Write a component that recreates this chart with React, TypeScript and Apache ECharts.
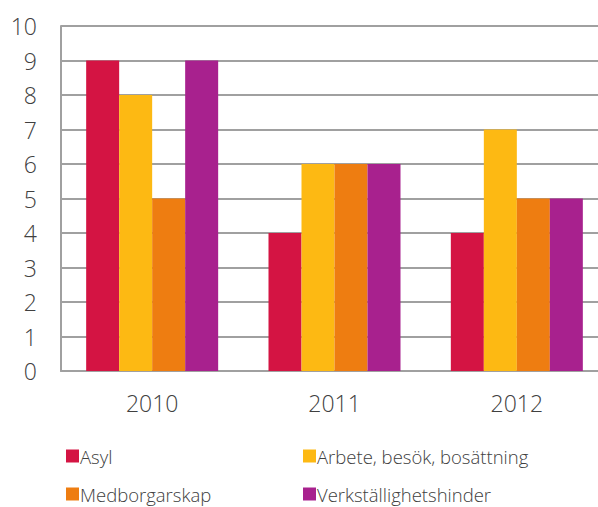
import React, { useEffect, useRef } from "react";
import * as echarts from "echarts";

const categories = ["2010", "2011", "2012"];
const asyl = [9, 4, 4];
const arbete = [8, 6, 7];
const medborgarskap = [5, 6, 5];
const verkstallighet = [9, 6, 5];
const seriesNames = ["Asyl", "Arbete, besök, bosättning", "Medborgarskap", "Verkställighetshinder"];
const colors = ["#D41443", "#FDB913", "#EE7D11", "#A8218E"];

export default function App() {
  const ref = useRef<HTMLDivElement>(null);
  useEffect(() => {
    const chart = echarts.init(ref.current!, null, { renderer: "svg" });
    const font = "'Open Sans', sans-serif";
    const data = [asyl, arbete, medborgarskap, verkstallighet];
    const legendPos = [
      [61, 441],
      [298, 441],
      [61, 479],
      [298, 479],
    ];
    chart.setOption({
      animation: false,
      grid: { left: 61, width: 547, top: 26, height: 345, containLabel: false },
      legend: seriesNames.map((name, i) => ({
        data: [name],
        left: legendPos[i][0],
        top: legendPos[i][1],
        padding: 5,
        itemWidth: 13,
        itemHeight: 13,
        icon: "rect",
        textStyle: { fontFamily: font, fontSize: 18.5, lineHeight: 20, color: "#404040", fontWeight: 300, padding: [0, 0, 0, -4] },
      })),
      xAxis: {
        type: "category",
        data: categories,
        axisLine: { lineStyle: { color: "#A0A0A0", width: 2 } },
        axisTick: { show: false },
        axisLabel: { fontFamily: font, fontSize: 23, color: "#404040", fontWeight: 300, margin: 20 },
      },
      yAxis: {
        type: "value",
        min: 0,
        max: 10,
        interval: 1,
        axisLine: { show: true, lineStyle: { color: "#A0A0A0", width: 2 } },
        axisTick: { show: false },
        splitLine: { lineStyle: { color: "#A0A0A0", width: 2 } },
        axisLabel: { fontFamily: font, fontSize: 23, color: "#404040", fontWeight: 300, margin: 24, align: "right" },
      },
      series: seriesNames.map((name, i) => ({
        name,
        type: "bar",
        data: data[i],
        barWidth: 33,
        barGap: "0%",
        itemStyle: { color: colors[i] },
      })),
    });
    return () => chart.dispose();
  }, []);
  return (
    <div style={{ width: 598, height: 507, position: "absolute", left: 0, top: 0, overflow: "hidden" }}>
      <div ref={ref} style={{ width: 620, height: 507 }} />
    </div>
  );
}
